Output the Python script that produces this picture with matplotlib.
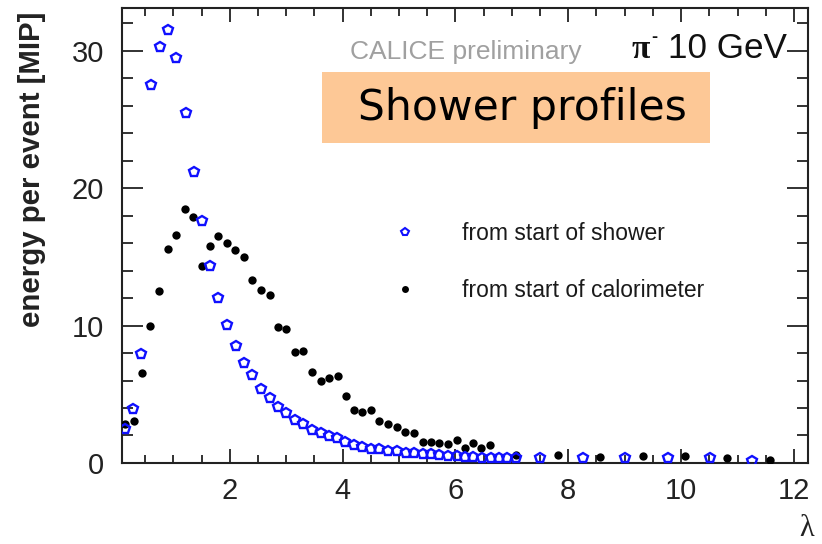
import matplotlib.pyplot as plt
from matplotlib.lines import Line2D
from matplotlib.patches import Rectangle
from matplotlib.ticker import MultipleLocator

plt.rcParams['font.family'] = ['Liberation Sans', 'DejaVu Sans']

# depth in interaction lengths
lam_shower = [0.15, 0.29, 0.43, 0.60, 0.76, 0.91, 1.05, 1.22, 1.37, 1.51,
              1.65, 1.79, 1.95, 2.11, 2.25, 2.40, 2.55, 2.71, 2.86, 3.00,
              3.15, 3.30, 3.46, 3.61, 3.76, 3.90, 4.05, 4.20, 4.35, 4.50,
              4.65, 4.80, 4.96, 5.12, 5.27, 5.42, 5.56, 5.71, 5.87, 6.02,
              6.17, 6.31, 6.47, 6.63, 6.77, 6.92, 7.07, 7.50, 8.26, 9.00,
              9.77, 10.51, 11.26]
e_shower = [2.45, 3.95, 7.9, 27.5, 30.3, 31.5, 29.5, 25.5, 21.2, 17.6,
            14.3, 12.0, 10.05, 8.5, 7.3, 6.4, 5.4, 4.7, 4.1, 3.6,
            3.1, 2.8, 2.43, 2.2, 1.98, 1.78, 1.5, 1.32, 1.17, 1.04,
            1.04, 0.88, 0.88, 0.73, 0.73, 0.63, 0.63, 0.58, 0.51, 0.51,
            0.46, 0.46, 0.39, 0.39, 0.34, 0.34, 0.34, 0.36, 0.34, 0.38,
            0.34, 0.34, 0.16]

lam_calo = [0.14, 0.30, 0.45, 0.59, 0.75, 0.91, 1.05, 1.20, 1.35, 1.50,
            1.65, 1.80, 1.95, 2.10, 2.25, 2.40, 2.55, 2.71, 2.86, 3.00,
            3.15, 3.30, 3.46, 3.61, 3.76, 3.91, 4.06, 4.21, 4.35, 4.50,
            4.65, 4.80, 4.96, 5.10, 5.26, 5.42, 5.56, 5.71, 5.86, 6.02,
            6.17, 6.31, 6.46, 6.61, 7.07, 7.82, 8.57, 9.32, 10.07, 10.82,
            11.57]
e_calo = [2.8, 3.07, 6.55, 10.0, 12.5, 15.6, 16.6, 18.5, 17.9, 14.3,
          15.8, 16.5, 16.0, 15.5, 15.0, 13.3, 12.6, 12.2, 9.9, 9.75,
          8.1, 8.15, 6.6, 5.95, 6.15, 6.3, 4.85, 3.88, 3.72, 3.87,
          3.07, 2.87, 2.65, 2.26, 2.21, 1.53, 1.53, 1.48, 1.41, 1.66,
          1.12, 1.44, 1.07, 1.29, 0.56, 0.6, 0.4, 0.48, 0.48, 0.39,
          0.21]

labels = ['from start of shower', 'from start of calorimeter']

fig = plt.figure(figsize=(8.22, 5.44), dpi=100)
ax = fig.add_axes([0.1484, 0.149, 0.8346, 0.836])

ax.plot(lam_calo, e_calo, 'o', color='black', ms=6, mew=0, zorder=3)
ax.plot(lam_shower, e_shower, 'p', mfc='none', mec='#1010ff', ms=7, mew=1.7, zorder=4)

ax.set_xlim(0.09, 12.25)
ax.set_ylim(0, 33.1)
ax.xaxis.set_major_locator(MultipleLocator(2))
ax.xaxis.set_minor_locator(MultipleLocator(0.5))
ax.yaxis.set_major_locator(MultipleLocator(10))
ax.yaxis.set_minor_locator(MultipleLocator(2))
ax.set_xticks([2, 4, 6, 8, 10, 12])

for s in ax.spines.values():
    s.set_linewidth(1.5)
    s.set_color('#222222')
ax.tick_params(which='both', direction='in', top=True, right=True,
               width=1.3, color='#222222', labelsize=21, labelcolor='#222222')
ax.tick_params(axis='x', which='major', length=10, pad=10)
ax.tick_params(axis='x', which='minor', length=6)
ax.tick_params(axis='y', which='major', length=15, pad=13)
ax.tick_params(axis='y', which='minor', length=8)

handles = [Line2D([], [], ls='none', marker='p', mfc='none', mec='#1010ff', ms=6, mew=1.5),
           Line2D([], [], ls='none', marker='o', color='black', ms=5, mew=0)]
ax.legend(handles, labels, loc='center left', bbox_to_anchor=(0.379, 0.442),
          frameon=False, fontsize=16.5, labelspacing=1.5, handlelength=2,
          handletextpad=1.5, borderpad=0, borderaxespad=0, numpoints=1,
          labelcolor='#1a1a1a')

fig.text(32 / 822, 1 - 169 / 544, 'energy per event [MIP]', rotation=90,
         ha='center', va='center', fontsize=21.2, fontweight='bold', color='#222222')
fig.text(807 / 822, 1 - 528 / 544, 'λ', ha='center', va='center', fontsize=22,
         family='Liberation Serif', color='#222222')

fig.text(350 / 822, 1 - 52 / 544, 'CALICE preliminary', ha='left', va='center',
         fontsize=19, color='#a0a0a0')
# beam label: pion symbol with a small superscript minus, then the energy
fig.text(632 / 822, 1 - 50 / 544, 'π', ha='left', va='center', fontsize=24,
         family='Liberation Serif', fontweight='bold', color='#111111')
fig.text(651 / 822, 1 - 38 / 544, '-', ha='left', va='center', fontsize=13,
         fontweight='bold', color='#111111')
fig.text(787 / 822, 1 - 48 / 544, '10 GeV', ha='right', va='center',
         fontsize=25.3, color='#111111')

fig.add_artist(Rectangle((322 / 822, 1 - 143 / 544), 388 / 822, 71 / 544,
                         transform=fig.transFigure, facecolor='#fdc896', edgecolor='none'))
fig.text(358 / 822, 1 - 108 / 544, 'Shower profiles', ha='left', va='center',
         fontsize=30.6, family='DejaVu Sans', color='black')

fig.savefig('out.png', dpi=100)
